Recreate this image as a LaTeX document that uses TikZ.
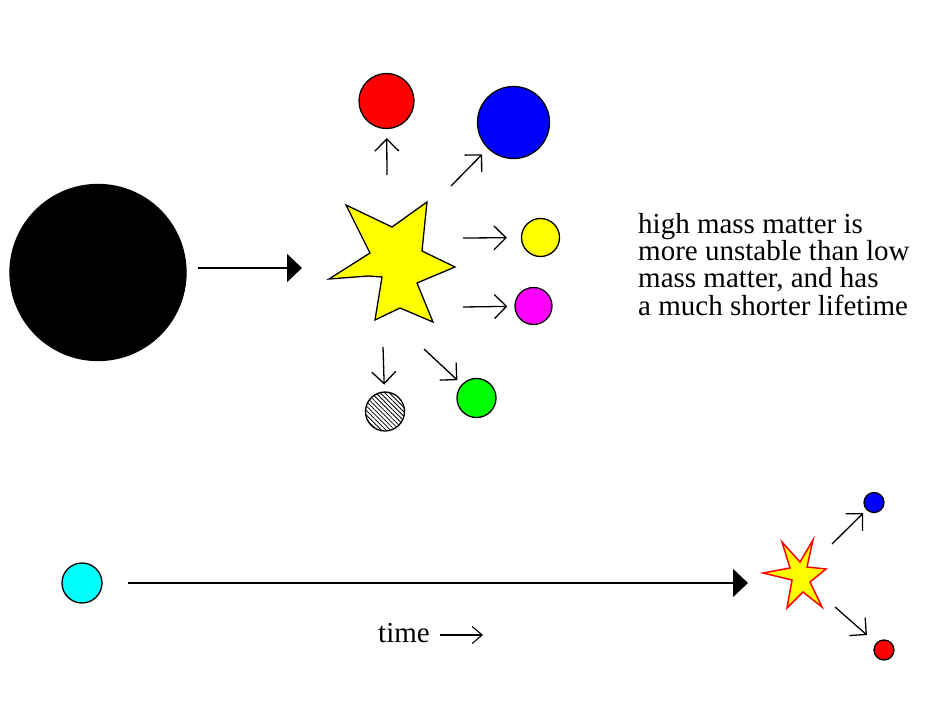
\documentclass[tikz,border=0pt]{standalone}
\usepackage{fontspec}
\setmainfont{Liberation Serif}
\usetikzlibrary{arrows.meta,patterns.meta}
\definecolor{cRed}{RGB}{255,0,0}
\definecolor{cBlue}{RGB}{0,0,255}
\definecolor{cYellow}{RGB}{255,255,0}
\definecolor{cMagenta}{RGB}{255,0,255}
\definecolor{cGreen}{RGB}{0,255,0}
\definecolor{cCyan}{RGB}{0,255,255}
\begin{document}
\begin{tikzpicture}[x=1pt,y=-1pt,
  ball/.style={circle, draw=black, line width=1.3pt, inner sep=0pt},
  barb/.style={-{Straight Barb[length=12pt,width=24pt]}, line width=1.3pt},
  bigarr/.style={-{Triangle[length=15pt,width=28pt]}, line width=1.6pt},
  txt/.style={font=\fontsize{29pt}{27.3pt}\selectfont, inner sep=0pt}
]
\useasboundingbox (0,0) rectangle (943,723);
% balls
\node[ball, fill=black, minimum size=176pt] (heavy) at (98,272.5) {};
\node[ball, fill=cRed, minimum size=55pt] (red) at (386.5,101) {};
\node[ball, fill=cBlue, minimum size=72pt] (blue) at (513.5,122.5) {};
\node[ball, fill=cYellow, minimum size=38pt] (yel) at (540.5,237.5) {};
\node[ball, fill=cMagenta, minimum size=37pt] (mag) at (533.5,306) {};
\node[ball, pattern={Lines[angle=-45,distance=3.2pt,line width=0.8pt]}, minimum size=39pt] (hat) at (385,411.5) {};
\node[ball, fill=cGreen, minimum size=39pt] (grn) at (476.5,398) {};
\node[ball, fill=cCyan, minimum size=40pt] (light) at (82,583) {};
\node[ball, fill=cBlue, minimum size=20pt] (sb) at (874,502.5) {};
\node[ball, fill=cRed, minimum size=20pt] (sr) at (884,650) {};
% big star
\draw[line width=1.3pt, fill=cYellow] (346,205) -- (392,227) -- (427,202) -- (422,251) -- (455,267) -- (417,283) -- (433,322) -- (400,308) -- (375,320) -- (382,277) -- (368,276) -- (329,279) -- (370,253) -- cycle;
% small star
\draw[draw=cRed, line width=1.5pt, fill=cYellow] (813,540) -- (807,567) -- (826,569) -- (810,582) -- (822,607) -- (803,592) -- (787,608) -- (792,580) -- (763,573) -- (790,568) -- (782,542) -- (800,562) -- cycle;
% coordinates
\coordinate (bigtip) at (302,268);
\coordinate (longtip) at (748,583);
\coordinate (sUp) at (387,175);
\coordinate (sNE) at (451,186);
\coordinate (sY) at (463,238);
\coordinate (sM) at (463,307);
\coordinate (sH) at (383,347);
\coordinate (sG) at (424,349);
\coordinate (sSB) at (832,544);
\coordinate (sSR) at (835,607);
\coordinate (tstart) at (440,635);
\coordinate (ttip) at (483,635);
% arrows
\draw[bigarr] ([shift={(11,-4.5)}]heavy.east) -- (bigtip);
\draw[bigarr, line width=1.3pt] ([xshift=25pt]light.east) -- (longtip);
\draw[barb, shorten >=9pt] (sUp) -- (red);
\draw[barb, shorten >=8pt] (sNE) -- (blue);
\draw[barb, shorten >=14pt] (sY) -- (yel);
\draw[barb, shorten >=7pt] (sM) -- (mag);
\draw[barb, shorten >=7pt] (sH) -- (hat);
\draw[barb, shorten >=6pt] (sG) -- (grn);
\draw[barb, shorten >=4.5pt] (sSB) -- (sb);
\draw[barb, shorten >=12pt] (sSR) -- (sr);
\draw[-{Straight Barb[length=10pt,width=17pt]}, line width=1.1pt] (tstart) -- (ttip);
% texts
\node[txt, anchor=north west, align=left] (note) at (638,213) {high mass matter is\\more unstable than low\\mass matter, and has\\a much shorter lifetime};
\node[txt, anchor=base west] (time) at (378,642) {time};
\end{tikzpicture}
\end{document}
